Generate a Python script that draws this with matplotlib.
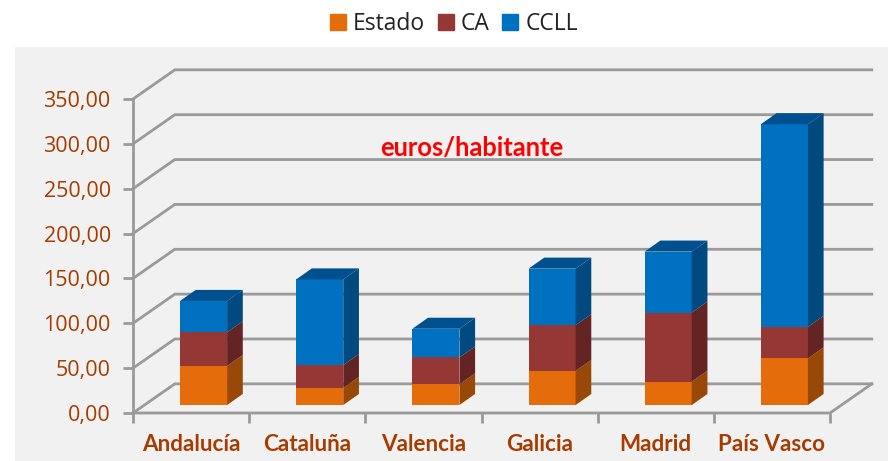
import numpy as np
import matplotlib
matplotlib.use("Agg")
import matplotlib.pyplot as plt
from matplotlib.patches import Patch, Rectangle

categories = ["Andalucía", "Cataluña", "Valencia", "Galicia", "Madrid", "País Vasco"]
estado = [43.5, 19, 23, 38, 26, 52]
ca = [37.5, 25.5, 30, 51, 77, 35]
ccll = [35, 95.5, 32, 63, 68, 226]
y_ticks = [0, 50, 100, 150, 200, 250, 300, 350]

COLORS = {"Estado": "#E46C0A", "CA": "#953735", "CCLL": "#0070C0"}
SIDES = {"Estado": "#984807", "CA": "#632423", "CCLL": "#004A80"}
TOP_COLOR = "#00508F"
GRID = "#9A9A9A"
TEXT = "#A63C00"

W, H = 888, 461
# back wall offset and bar depth, in data units
WALL_DX, WALL_DY = 0.36, 32.5
BAR_LEFT, BAR_W = 0.405, 0.405
BAR_DX, BAR_DY = 0.135, 12.3
FLOOR = 8.9

fig = plt.figure(figsize=(W / 100, H / 100), dpi=100)
fig.patches.append(Rectangle((15 / W, 0), 1 - 15 / W, 1 - 47 / H, transform=fig.transFigure,
                             facecolor="#F1F1F1", edgecolor="none", zorder=-5))
ax = fig.add_axes([133 / W, (H - 413) / H, 697 / W, 314 / H])
ax.patch.set_visible(False)
ax.set_xlim(0, 6)
ax.set_ylim(0, 350)
for s in ax.spines.values():
    s.set_visible(False)

# 3d-looking walls
for v in y_ticks:
    ax.plot([0, WALL_DX, 6 + WALL_DX], [v, v + WALL_DY, v + WALL_DY], color=GRID, lw=2,
            clip_on=False, zorder=1, solid_joinstyle="miter")
ax.plot([0, 0], [0, 350], color=GRID, lw=2, clip_on=False, zorder=1)
ax.plot([0, 6, 6 + WALL_DX], [0, 0, WALL_DY], color=GRID, lw=2, clip_on=False, zorder=1)

x = np.arange(len(categories)) + BAR_LEFT
bottom = np.full(len(categories), FLOOR)
for name, vals in [("Estado", estado), ("CA", ca), ("CCLL", ccll)]:
    vals = np.array(vals, dtype=float)
    ax.bar(x, vals, BAR_W, bottom=bottom, align="edge", color=COLORS[name], clip_on=False, zorder=3)
    for xi, b, v in zip(x, bottom, vals):
        r = xi + BAR_W
        ax.fill([r, r + BAR_DX, r + BAR_DX, r], [b, b + BAR_DY, b + v + BAR_DY, b + v],
                color=SIDES[name], lw=0, clip_on=False, zorder=3)
    bottom = bottom + vals
for xi, t in zip(x, bottom):
    ax.fill([xi, xi + BAR_DX, xi + BAR_W + BAR_DX, xi + BAR_W], [t, t + BAR_DY, t + BAR_DY, t],
            color=TOP_COLOR, lw=0, clip_on=False, zorder=3)

ax.set_yticks(y_ticks)
ax.set_yticklabels([f"{v},00" for v in y_ticks], fontfamily="Open Sans", fontsize=15.5, color=TEXT)
ax.set_xticks(range(7))
ax.set_xticklabels([])
ax.set_xticks(np.arange(6) + 0.5, categories, minor=True, fontfamily="Lato", fontweight="bold",
              fontsize=16.2, color=TEXT)
ax.tick_params(axis="y", length=7, width=2, color=GRID, pad=9)
ax.tick_params(axis="x", which="major", length=7, width=2, color=GRID)
ax.tick_params(axis="x", which="minor", length=0, pad=15)

ax.text(472 / W, (H - 148) / H, "euros/habitante", transform=fig.transFigure, color="#FF0000",
        fontfamily="Lato", fontweight="bold", fontsize=18.4, ha="center", va="center")

handles = [Patch(color=COLORS[n], label=n) for n in COLORS]
fig.legend(handles=handles, ncols=3, loc="center", bbox_to_anchor=(454 / W, (H - 24) / H),
           frameon=False, prop={"family": "Open Sans", "size": 16.5}, handlelength=0.7,
           handleheight=0.7, handletextpad=0.3, columnspacing=0.55, labelcolor="#222222")

fig.savefig("out.png", dpi=100)
